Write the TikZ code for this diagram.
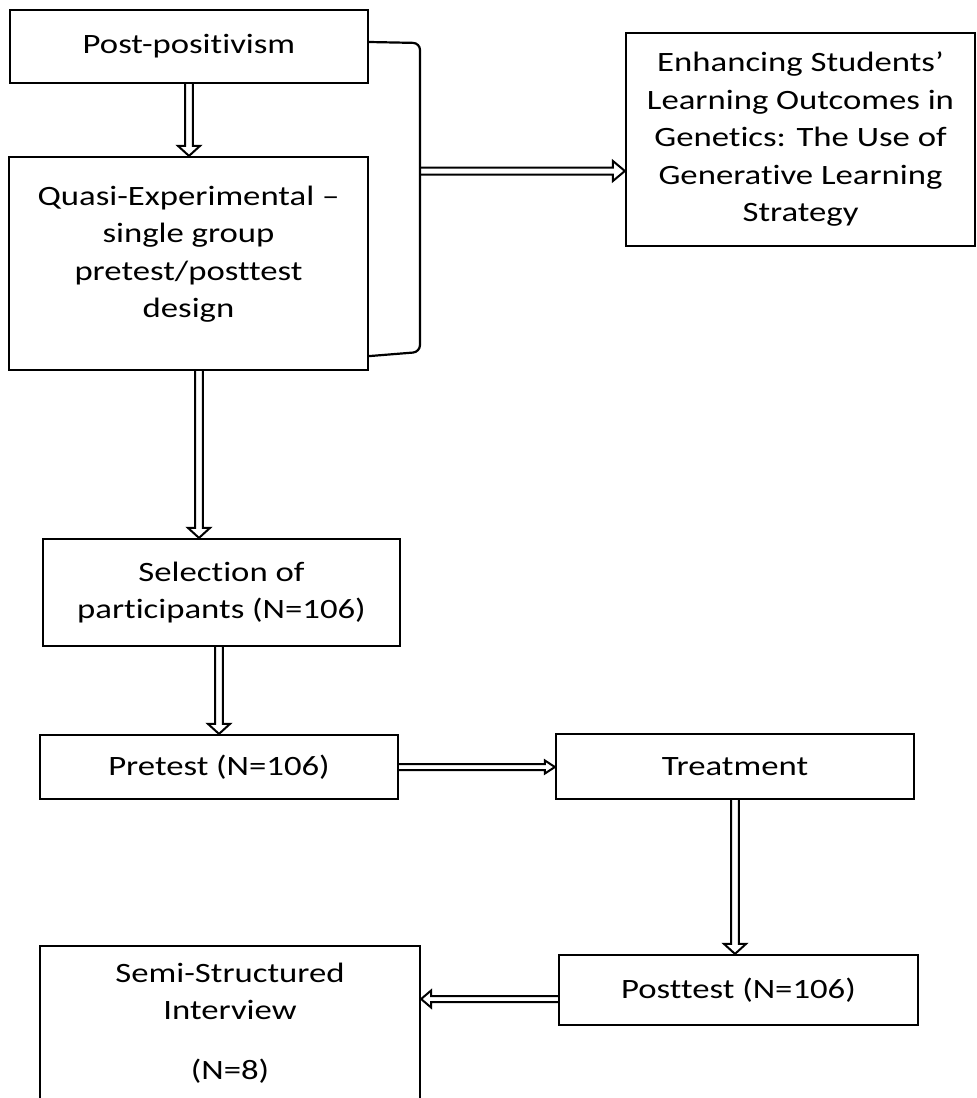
\documentclass[tikz,border=0pt]{standalone}
\usepackage{fontspec}
\setmainfont{Carlito}[FakeStretch=1.24, Ligatures=NoCommon]
\usetikzlibrary{arrows.meta,calc}
\begin{document}
\begin{tikzpicture}[x=1pt,y=-1pt,
  box/.style={draw, line width=2.2pt, align=center, inner sep=0pt, font=\fontsize{28}{37.5}\selectfont},
  txt/.style={align=center, inner sep=0pt, font=\fontsize{28}{37.5}\selectfont},
  vblk/.style n args={3}{draw, line width=2pt, miter limit=4, to path={
     let \p1=(\tikztostart), \p2=(\tikztotarget) in
     (\x1-#1,\y1) -- (\x1-#1,\y2+#3) -- (\x1-#2,\y2+#3) -- (\x1,\y2)
     -- (\x1+#2,\y2+#3) -- (\x1+#1,\y2+#3) -- (\x1+#1,\y1)}},
  hblk/.style n args={3}{draw, line width=2pt, miter limit=4, to path={
     let \p1=(\tikztostart), \p2=(\tikztotarget), \n1={sign(\x2-\x1)} in
     (\x1,\y1+#1) -- (\x2-\n1*#3,\y1+#1) -- (\x2-\n1*#3,\y1+#2) -- (\x2,\y1)
     -- (\x2-\n1*#3,\y1-#2) -- (\x2-\n1*#3,\y1-#1) -- (\x1,\y1-#1)}},
  brk/.style={draw, line width=2.2pt, rounded corners=7pt}]
\useasboundingbox (0,0) rectangle (977,1098);
\clip (0,0) rectangle (977,1098);
\node[box, minimum width=358pt, minimum height=73pt] (post) at (189,46.5) {Post-positivism};
\node[box, minimum width=359pt, minimum height=213pt] (quasi) at (188.5,263.5) {};
\node[txt] (quasitext) at (188.5,254) {Quasi-Experimental –\\single group\\pretest/posttest\\design};
\node[box, minimum width=349pt, minimum height=213pt] (enh) at (800.5,139.5) {Enhancing Students’\\Learning Outcomes in\\Genetics: The Use of\\Generative Learning\\Strategy};
\node[box, minimum width=357pt, minimum height=107pt] (sel) at (221.5,592.5) {Selection of\\participants (N=106)};
\node[box, minimum width=358pt, minimum height=64pt] (pre) at (219,767) {Pretest (N=106)};
\node[box, minimum width=358pt, minimum height=65pt] (treat) at (735,766.5) {Treatment};
\node[box, minimum width=359pt, minimum height=70pt] (postt) at (738.5,990) {Posttest (N=106)};
\node[box, minimum width=380pt, minimum height=180pt, anchor=north] (semi) at (230,945) {};
\node[txt] (semitext) at (230,1023) {Semi-Structured\\Interview\\[22pt](N=8)};
% bracket
\coordinate (b1) at ([yshift=4.5pt]post.east);
\coordinate (b2) at ([yshift=15pt]quasi.south east);
\coordinate (brk) at (420,171);
\draw[brk] (b1) -- (420,43) -- (420,352) -- (b2);
\path[hblk={3.5pt}{10pt}{12pt}] (brk) to (brk -| enh.west);
% vertical flow
\path[vblk={3.8pt}{11pt}{10pt}] (post.south) to (post.south |- quasi.north);
\coordinate (q1) at ([xshift=10.5pt]quasi.south);
\path[vblk={3.8pt}{11pt}{10pt}] (q1) to (q1 |- sel.north);
\path[vblk={3.8pt}{11pt}{10pt}] (sel.south -| pre.north) to (pre.north);
\path[hblk={3pt}{6.5pt}{10pt}] (pre.east) to (pre.east -| treat.west);
\path[vblk={3.8pt}{11pt}{10pt}] (treat.south) to (treat.south |- postt.north);
\coordinate (p1) at ([yshift=-9pt]postt.west);
\path[hblk={3pt}{8.5pt}{10pt}] (p1) to (p1 -| semi.east);
\end{tikzpicture}
\end{document}
